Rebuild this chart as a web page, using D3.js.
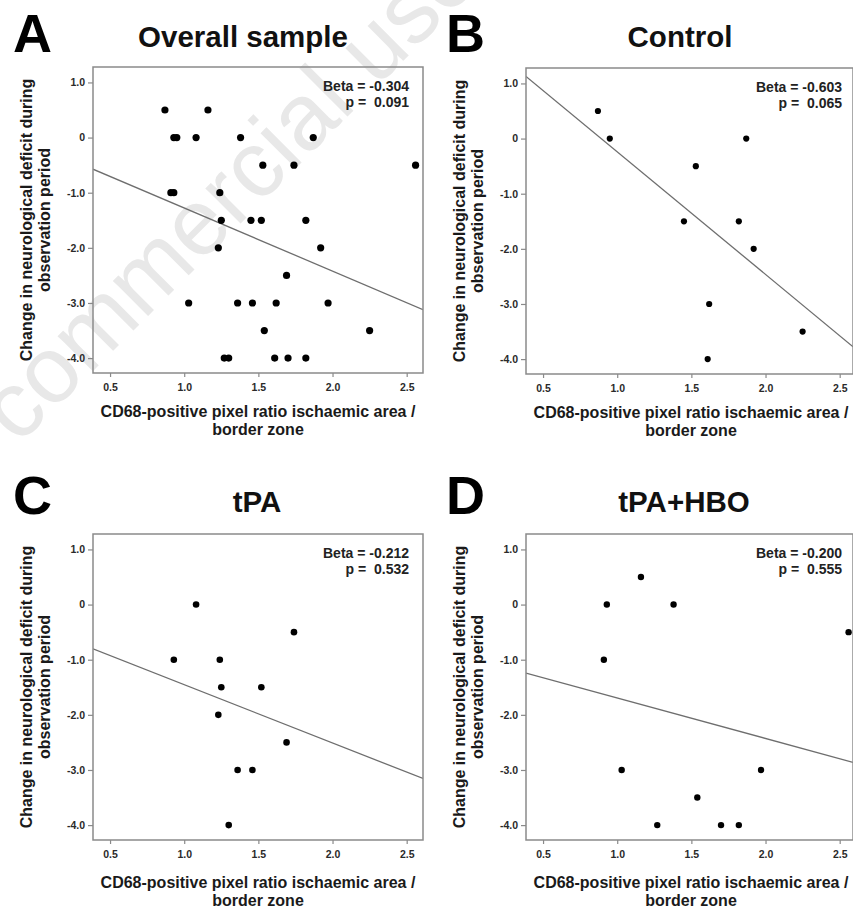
<!DOCTYPE html>
<html>
<head>
<meta charset="utf-8">
<script src="https://cdn.jsdelivr.net/npm/d3@7"></script>
<style>
  html, body { margin: 0; padding: 0; background: #fff; }
  svg { display: block; }
  text { font-family: "Liberation Sans", Arial, Helvetica, sans-serif; }
</style>
</head>
<body>
<svg id="chart" width="853" height="909"></svg>
<script>
// ---------------- DATA ----------------
const panelLetters = ["A", "B", "C", "D"];
const panelTitles = ["Overall sample", "Control", "tPA", "tPA+HBO"];
const betaLabels = ["Beta = -0.304", "Beta = -0.603", "Beta = -0.212", "Beta = -0.200"];
const pLabels = ["p =  0.091", "p =  0.065", "p =  0.532", "p =  0.555"];

const xTicks = [0.5, 1.0, 1.5, 2.0, 2.5];
const xTickLabels = ["0.5", "1.0", "1.5", "2.0", "2.5"];
const yTicks = [1, 0, -1, -2, -3, -4];
const yTickLabels = ["1.0", "0", "-1.0", "-2.0", "-3.0", "-4.0"];

const xAxisLabel = ["CD68-positive pixel ratio ischaemic area /", "border zone"];
const yAxisLabel = ["Change in neurological deficit during", "observation period"];

// Control group
const controlX = [0.87, 0.95, 1.87, 1.53, 1.45, 1.82, 1.92, 1.62, 1.61, 2.25];
const controlY = [0.5, 0, 0, -0.5, -1.5, -1.5, -2, -3, -4, -3.5];
// tPA group
const tpaX = [1.08, 1.74, 0.93, 1.24, 1.25, 1.52, 1.23, 1.69, 1.36, 1.46, 1.30];
const tpaY = [0, -0.5, -1, -1, -1.5, -1.5, -2, -2.5, -3, -3, -4];
// tPA+HBO group
const hboX = [1.16, 0.93, 1.38, 2.56, 0.91, 1.03, 1.97, 1.54, 1.27, 1.70, 1.82];
const hboY = [0.5, 0, 0, -0.5, -1, -3, -3, -3.5, -4, -4, -4];
// Overall sample = all groups together
const overallX = controlX.concat(tpaX, hboX);
const overallY = controlY.concat(tpaY, hboY);

const seriesX = [overallX, controlX, tpaX, hboX];
const seriesY = [overallY, controlY, tpaY, hboY];

const xDomain = [0.385, 2.61];
const yDomain = [-4.27, 1.28];

// ---------------- LAYOUT ----------------
const layout = [
  { left: 93,  top: 67,  w: 330, h: 306, letterX: 13,  letterY: 52,  titleX: 243, titleY: 47,  xlabDy: 44, r: 3.6, xMax: 2.61 },
  { left: 526, top: 68,  w: 330, h: 306, letterX: 446, letterY: 52,  titleX: 680, titleY: 47,  xlabDy: 44, r: 3.1, xMax: 2.59 },
  { left: 93,  top: 534, w: 330, h: 306, letterX: 13,  letterY: 514, titleX: 257, titleY: 512, xlabDy: 48, r: 3.3, xMax: 2.61 },
  { left: 526, top: 534, w: 330, h: 306, letterX: 446, letterY: 514, titleX: 684, titleY: 512, xlabDy: 48, r: 3.2, xMax: 2.59 }
];

const svg = d3.select("#chart");

// faint watermark
svg.append("text")
  .attr("transform", "translate(18,446) rotate(-45)")
  .attr("font-size", 94)
  .attr("fill", "#e8e8e8")
  .text("commercial use");

function ols(xs, ys) {
  const mx = d3.mean(xs), my = d3.mean(ys);
  let sxy = 0, sxx = 0;
  xs.forEach((x, i) => { sxy += (x - mx) * (ys[i] - my); sxx += (x - mx) * (x - mx); });
  const b = sxy / sxx;
  return { b, a: my - b * mx };
}

layout.forEach((L, i) => {
  const g = svg.append("g");
  const x = d3.scaleLinear().domain([xDomain[0], L.xMax]).range([L.left, L.left + (L.xMax - xDomain[0]) / (xDomain[1] - xDomain[0]) * L.w]);
  const right = x.range()[1];
  const y = d3.scaleLinear().domain(yDomain).range([L.top + L.h, L.top]);

  // panel letter
  g.append("text").attr("x", L.letterX).attr("y", L.letterY)
    .attr("font-size", 54).attr("font-weight", "bold").attr("fill", "#000")
    .text(panelLetters[i]);
  // title
  g.append("text").attr("x", L.titleX).attr("y", L.titleY)
    .attr("text-anchor", "middle").attr("font-size", 29.5).attr("font-weight", "bold").attr("fill", "#111")
    .text(panelTitles[i]);

  // clip
  const cid = "clip" + i;
  svg.append("clipPath").attr("id", cid).append("rect")
    .attr("x", L.left).attr("y", L.top).attr("width", right - L.left).attr("height", L.h);

  // axes
  const yAxis = d3.axisLeft(y).tickValues(yTicks).tickFormat((d, k) => yTickLabels[k])
    .tickSize(5).tickPadding(3).tickSizeOuter(0);
  const ya = g.append("g").attr("transform", `translate(${L.left},0)`).call(yAxis);
  const xAxis = d3.axisBottom(x).tickValues(xTicks).tickFormat((d, k) => xTickLabels[k])
    .tickSize(4).tickPadding(7).tickSizeOuter(0);
  const xa = g.append("g").attr("transform", `translate(0,${L.top + L.h})`).call(xAxis);
  [ya, xa].forEach(a => {
    a.select(".domain").remove();
    a.selectAll(".tick line").attr("stroke", "#8a8a8a").attr("stroke-width", 1.2);
    a.selectAll(".tick text").attr("font-size", 10.5).attr("font-weight", "bold").attr("fill", "#2a2a2a")
      .style("font-family", '"Liberation Sans", Arial, sans-serif');
  });

  // regression line
  const fit = ols(seriesX[i], seriesY[i]);
  const x0 = x.domain()[0], x1 = x.domain()[1];
  g.append("line")
    .attr("clip-path", `url(#${cid})`)
    .attr("x1", x(x0)).attr("y1", y(fit.a + fit.b * x0))
    .attr("x2", x(x1)).attr("y2", y(fit.a + fit.b * x1))
    .attr("stroke", "#6e6e6e").attr("stroke-width", 1.3);

  // points
  g.append("g").selectAll("circle")
    .data(seriesX[i].map((v, k) => [v, seriesY[i][k]]))
    .join("circle")
    .attr("cx", d => x(d[0])).attr("cy", d => y(d[1])).attr("r", L.r)
    .attr("fill", "#000");

  // box
  g.append("rect").attr("x", L.left).attr("y", L.top)
    .attr("width", right - L.left).attr("height", L.h)
    .attr("fill", "none").attr("stroke", "#8a8a8a").attr("stroke-width", 1.5);

  // stats text
  const st = g.append("text").attr("text-anchor", "end").attr("font-size", 14)
    .attr("font-weight", "bold").attr("fill", "#222").style("white-space", "pre");
  st.append("tspan").attr("x", L.left + L.w - 14).attr("y", L.top + 24).text(betaLabels[i]);
  st.append("tspan").attr("x", L.left + L.w - 14).attr("y", L.top + 40).text(pLabels[i]);

  // x axis label
  const cx = L.left + L.w / 2;
  const xl = g.append("text").attr("text-anchor", "middle").attr("font-size", 16)
    .attr("font-weight", "bold").attr("fill", "#1a1a1a");
  xl.append("tspan").attr("x", cx).attr("y", L.top + L.h + L.xlabDy).text(xAxisLabel[0]);
  xl.append("tspan").attr("x", cx).attr("y", L.top + L.h + L.xlabDy + 18).text(xAxisLabel[1]);

  // y axis label
  const cy = L.top + L.h / 2;
  const yl = g.append("text").attr("text-anchor", "middle").attr("font-size", 16)
    .attr("font-weight", "bold").attr("fill", "#1a1a1a")
    .attr("transform", `translate(${L.left},${cy}) rotate(-90)`);
  yl.append("tspan").attr("x", 0).attr("y", -61).text(yAxisLabel[0]);
  yl.append("tspan").attr("x", 0).attr("y", -43).text(yAxisLabel[1]);
});
</script>
</body>
</html>
